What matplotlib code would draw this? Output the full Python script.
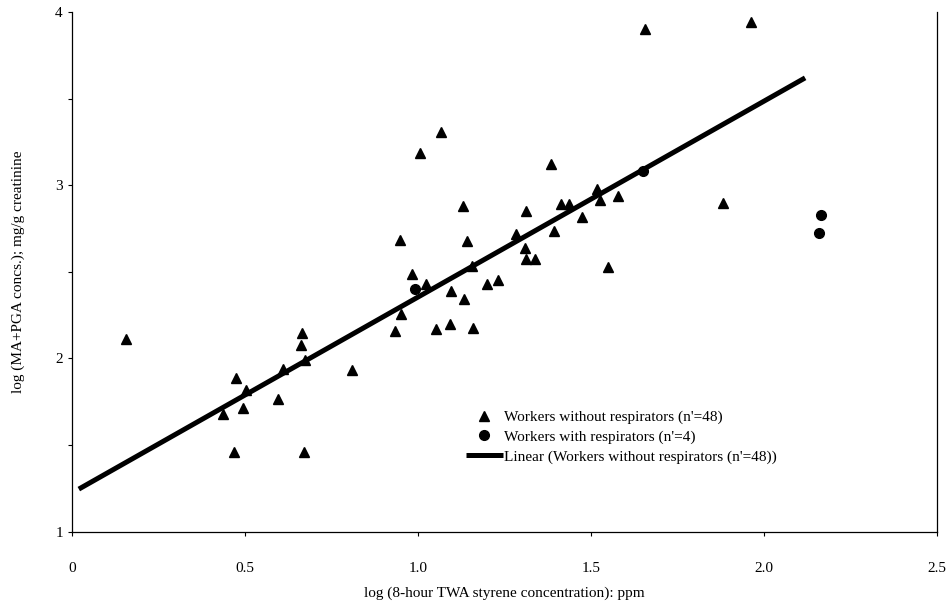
import matplotlib
matplotlib.use("Agg")
import matplotlib.pyplot as plt
import numpy as np

# workers without respirators (log TWA styrene, log MA+PGA)
no_resp_x = [0.157, 0.664, 0.662, 0.675, 0.610, 0.811, 0.475, 0.503, 0.596, 0.436,
             0.494, 0.468, 0.671,
             1.068, 1.006, 1.384, 1.517, 1.528, 1.580, 1.415, 1.437, 1.130, 1.313,
             1.474, 1.284, 1.394, 0.948, 1.141, 1.310, 1.313, 1.340, 1.549, 1.158,
             0.984, 1.025, 1.233, 1.199, 1.095, 1.134, 0.953, 0.935, 1.054, 1.093,
             1.159, 1.658, 1.964, 1.884]
no_resp_y = [2.11, 2.148, 2.08, 1.99, 1.936, 1.93, 1.884, 1.82, 1.766, 1.676,
             1.714, 1.46, 1.46,
             3.31, 3.187, 3.12, 2.98, 2.917, 2.936, 2.89, 2.89, 2.88, 2.853,
             2.814, 2.72, 2.737, 2.683, 2.675, 2.635, 2.573, 2.573, 2.529, 2.534,
             2.49, 2.43, 2.45, 2.43, 2.39, 2.345, 2.255, 2.158, 2.17, 2.197,
             2.177, 3.905, 3.94, 2.90]

# workers with respirators
resp_x = [0.993, 1.650, 2.167, 2.160]
resp_y = [2.40, 3.08, 2.83, 2.724]

# linear trend for the workers without respirators
trend_x = [0.02, 2.12]
trend_y = [1.245, 3.62]

serif = "Liberation Serif"

fig = plt.figure(figsize=(9.46, 6.04), dpi=100)
ax = fig.add_axes([0.076, 0.12, 0.914, 0.86])

ax.plot(no_resp_x, no_resp_y, linestyle="none", marker="^", ms=6.5, color="black",
        label="Workers without respirators (n'=48)")
ax.plot(resp_x, resp_y, linestyle="none", marker="o", ms=7, color="black",
        label="Workers with respirators (n'=4)")
ax.plot(trend_x, trend_y, color="black", lw=3.6, solid_capstyle="butt",
        label="Linear (Workers without respirators (n'=48))")

ax.set_xlim(0, 2.5)
ax.set_ylim(1, 4)
ax.set_xticks([0, 0.5, 1.0, 1.5, 2.0, 2.5])
ax.set_xticklabels(["0", "0.5", "1.0", "1.5", "2.0", "2.5"])
ax.set_yticks([1, 2, 3, 4])
ax.set_yticks([1.5, 2.5, 3.5], minor=True)
ax.tick_params(axis="both", which="both", direction="out", length=3, width=0.8)
ax.tick_params(axis="x", pad=19)
for lbl in ax.get_xticklabels() + ax.get_yticklabels():
    lbl.set_fontfamily(serif)
    lbl.set_fontsize(11)

ax.spines["top"].set_visible(False)
for s in ["left", "right", "bottom"]:
    ax.spines[s].set_linewidth(0.9)

ax.set_xlabel("log (8-hour TWA styrene concentration): ppm", family=serif,
              fontsize=11, labelpad=8)
ax.set_ylabel("log (MA+PGA concs.); mg/g creatinine", family=serif,
              fontsize=11, labelpad=22)

ax.legend(loc="upper left", bbox_to_anchor=(0.447, 0.248), frameon=False,
          prop={"family": serif, "size": 11}, handlelength=2.4,
          handletextpad=0.1, labelspacing=0.38, borderpad=0)

fig.savefig("out.png", dpi=100)
